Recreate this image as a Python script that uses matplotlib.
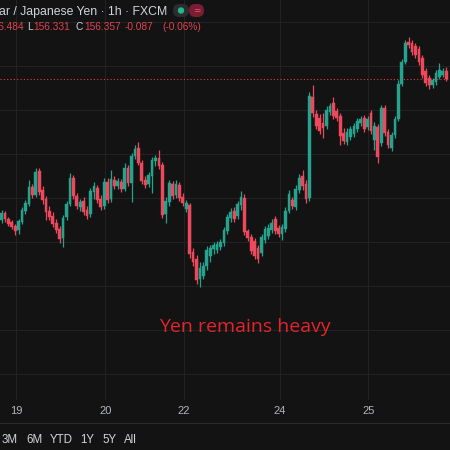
import matplotlib
matplotlib.use("Agg")
import matplotlib.pyplot as plt
from matplotlib.patches import FancyBboxPatch, Circle
import numpy as np

# ---------------- data (USD/JPY, 1h candles) ----------------
opens = [154.75, 154.83, 154.76, 154.73, 154.68, 154.64, 154.73, 154.85, 154.93, 155.12,
         155.03, 155.31, 155.09, 154.99, 154.85, 154.80, 154.72, 154.65, 154.55, 154.78,
         154.93, 155.23, 155.02, 154.90, 154.97, 154.86, 154.82, 155.07, 155.11, 154.99,
         154.91, 155.18, 154.99, 155.20, 155.14, 155.18, 155.10, 155.34, 155.17, 155.48,
         155.57, 155.40, 155.20, 155.16, 155.25, 155.42, 155.45, 155.38, 154.82, 154.95,
         155.16, 155.03, 155.15, 155.01, 154.88, 154.92, 154.39, 154.31, 154.08, 154.11,
         154.23, 154.34, 154.42, 154.41, 154.44, 154.49, 154.62, 154.77, 154.85, 154.80,
         154.92, 155.00, 154.62, 154.56, 154.51, 154.43, 154.38, 154.52, 154.57, 154.64,
         154.76, 154.66, 154.59, 154.65, 154.85, 154.98, 154.90, 155.09, 155.25, 155.16,
         155.00, 156.15, 155.95, 155.91, 155.85, 155.82, 155.98, 156.08, 155.99, 155.93,
         155.74, 155.64, 155.69, 155.73, 155.78, 155.85, 155.91, 155.81, 155.97, 155.66,
         155.81, 155.62, 156.02, 155.75, 155.57, 155.72, 155.90, 156.30, 156.55, 156.77,
         156.76, 156.73, 156.69, 156.59, 156.44, 156.36, 156.28, 156.32, 156.38, 156.40,
         156.444]
highs = [154.86, 154.85, 154.78, 154.75, 154.70, 154.76, 154.90, 154.98, 155.20, 155.16,
         155.34, 155.34, 155.14, 155.02, 154.91, 154.84, 154.76, 154.68, 154.81, 154.97,
         155.28, 155.26, 155.06, 154.99, 155.01, 154.91, 155.11, 155.18, 155.15, 155.03,
         155.23, 155.23, 155.32, 155.25, 155.23, 155.22, 155.40, 155.38, 155.51, 155.60,
         155.64, 155.43, 155.25, 155.30, 155.47, 155.49, 155.55, 155.41, 155.01, 155.20,
         155.19, 155.20, 155.18, 155.06, 154.98, 154.94, 154.43, 154.35, 154.27, 154.27,
         154.45, 154.47, 154.50, 154.51, 154.53, 154.67, 154.82, 154.89, 154.90, 154.97,
         155.08, 155.05, 154.65, 154.59, 154.55, 154.47, 154.59, 154.68, 154.70, 154.76,
         154.80, 154.69, 154.70, 154.90, 155.09, 155.01, 155.15, 155.27, 155.32, 155.20,
         156.20, 156.28, 156.00, 155.95, 155.97, 156.05, 156.08, 156.15, 156.02, 155.97,
         155.80, 155.80, 155.82, 155.85, 155.91, 155.93, 155.94, 155.93, 156.00, 155.86,
         155.84, 156.06, 156.06, 155.78, 155.75, 155.93, 156.34, 156.58, 156.80, 156.83,
         156.80, 156.76, 156.73, 156.62, 156.48, 156.40, 156.36, 156.45, 156.53, 156.48,
         156.484]
lows = [154.72, 154.73, 154.68, 154.65, 154.58, 154.59, 154.70, 154.82, 154.91, 155.00,
        155.01, 155.03, 154.93, 154.75, 154.75, 154.67, 154.60, 154.49, 154.44, 154.75,
        154.91, 154.99, 154.88, 154.85, 154.81, 154.76, 154.78, 154.99, 154.94, 154.86,
        154.88, 154.94, 154.95, 155.10, 155.10, 155.07, 155.08, 155.14, 154.95, 155.44,
        155.38, 155.16, 155.11, 155.12, 155.06, 155.36, 155.33, 154.77, 154.72, 154.91,
        154.99, 155.00, 154.97, 154.91, 154.84, 154.32, 154.23, 154.02, 153.99, 154.08,
        154.18, 154.27, 154.36, 154.38, 154.41, 154.45, 154.59, 154.73, 154.73, 154.76,
        154.86, 154.58, 154.51, 154.36, 154.31, 154.26, 154.34, 154.49, 154.53, 154.60,
        154.59, 154.56, 154.52, 154.61, 154.83, 154.88, 154.86, 155.06, 155.09, 154.94,
        154.97, 155.92, 155.78, 155.73, 155.68, 155.78, 155.94, 155.90, 155.88, 155.60,
        155.61, 155.60, 155.66, 155.69, 155.75, 155.82, 155.75, 155.77, 155.73, 155.55,
        155.40, 155.59, 155.70, 155.57, 155.53, 155.68, 155.88, 156.27, 156.52, 156.70,
        156.62, 156.59, 156.51, 156.36, 156.27, 156.24, 156.25, 156.28, 156.35, 156.38,
        156.331]
closes = [154.83, 154.76, 154.70, 154.67, 154.62, 154.74, 154.86, 154.94, 155.12, 155.03,
          155.30, 155.07, 154.98, 154.84, 154.78, 154.70, 154.64, 154.53, 154.77, 154.93,
          155.23, 155.02, 154.91, 154.95, 154.84, 154.80, 155.08, 155.14, 154.98, 154.90,
          155.18, 154.98, 155.22, 155.14, 155.19, 155.10, 155.34, 155.17, 155.48, 155.56,
          155.40, 155.19, 155.15, 155.26, 155.43, 155.45, 155.36, 154.81, 154.97, 155.17,
          155.02, 155.16, 155.00, 154.94, 154.94, 154.36, 154.27, 154.07, 154.20, 154.23,
          154.41, 154.43, 154.47, 154.48, 154.50, 154.64, 154.78, 154.84, 154.76, 154.93,
          155.01, 154.61, 154.55, 154.40, 154.34, 154.31, 154.56, 154.65, 154.66, 154.72,
          154.62, 154.59, 154.67, 154.85, 155.05, 154.91, 155.10, 155.23, 155.14, 154.99,
          156.16, 155.97, 155.82, 155.76, 155.80, 156.00, 156.05, 155.93, 155.91, 155.70,
          155.65, 155.75, 155.78, 155.82, 155.88, 155.90, 155.78, 155.90, 155.76, 155.82,
          155.47, 156.02, 155.74, 155.60, 155.72, 155.90, 156.30, 156.55, 156.76, 156.74,
          156.66, 156.62, 156.55, 156.40, 156.31, 156.28, 156.34, 156.42, 156.45, 156.44,
          156.357]

day_labels = ["19", "20", "22", "24", "25"]
day_tick_index = [4.2, 30.3, 53.4, 81.4, 107.2]
price_grid = [153.0, 153.5, 154.0, 154.5, 155.0, 155.5, 156.0, 156.5, 157.0]
last_close = 156.357

header = "ar / Japanese Yen \u00b7 1h \u00b7 FXCM"
ohlc_parts = [("156.484", "red"), ("L", "grey"), ("156.331", "red"), ("C", "grey"),
              ("156.357", "red"), ("-0.087", "red"), ("(-0.06%)", "red")]
range_buttons = ["3M", "6M", "YTD", "1Y", "5Y", "All"]
note = "Yen remains heavy"

# ---------------- style ----------------
BG = "#131313"
GRID = "#222222"
UP = "#26a38f"
DN = "#ec4a5c"
TXT = "#d1d4dc"
RED_TXT = "#e0424f"

W, H = 450, 450
fig = plt.figure(figsize=(4.5, 4.5), dpi=100, facecolor=BG)
ax = fig.add_axes([0, 50 / H, 1, 400 / H])
ax.set_facecolor(BG)

o = np.array(opens); c = np.array(closes); hi = np.array(highs); lo = np.array(lows)
idx = np.arange(len(o))
up = c >= o
cols = np.where(up, UP, DN)

ax.vlines(idx, lo, hi, colors=cols, linewidth=0.9, zorder=3)
ax.bar(idx, np.maximum(np.abs(c - o), 0.008), bottom=np.minimum(o, c), width=0.8,
       color=cols, edgecolor=cols, linewidth=0.3, zorder=4)

ax.axhline(last_close, color="#f23645", linestyle=(0, (1, 2)), linewidth=0.8, zorder=2)

ax.set_xlim(-0.44, 131.1)
ax.set_ylim(152.705, 157.25)
ax.set_yticks(price_grid)
ax.set_yticklabels([])
ax.set_xticks(day_tick_index)
ax.set_xticklabels(day_labels, color="#b2b5be", fontsize=8, family="Liberation Sans")
ax.tick_params(axis="both", length=0, pad=4)
ax.tick_params(axis="y", pad=0)
ax.grid(True, color=GRID, linewidth=0.8, zorder=0)
for s in ax.spines.values():
    s.set_visible(False)

# annotation
ax.text(0.543, 1 - 327 / 400, note, transform=ax.transAxes, ha="center", va="center",
        color="#e3242b", fontsize=14, family="Open Sans")

# ---------------- header / footer (figure pixel coordinates) ----------------
def fx(x):
    return x / W

def fy(y):
    return 1 - y / H

fig.text(fx(-1), fy(12), header, color=TXT, fontsize=8.8, family="Liberation Sans",
         ha="left", va="center")

# status pill
pill1 = FancyBboxPatch((fx(173), fy(17)), fx(16), 13 / H, boxstyle="round,pad=0,rounding_size=0.014",
                       transform=fig.transFigure, facecolor="#2a2d2e", edgecolor="none")
pill2 = FancyBboxPatch((fx(189), fy(17)), fx(15), 13 / H, boxstyle="round,pad=0,rounding_size=0.014",
                       transform=fig.transFigure, facecolor="#7a1c33", edgecolor="none")
fig.patches.extend([pill1, pill2])
fig.patches.append(Circle((fx(181), fy(10.5)), 3.2 / W, transform=fig.transFigure,
                          facecolor="#2bb38f", edgecolor="none"))
fig.text(fx(196.5), fy(10.5), "=", color="#e05a78", fontsize=6.5, ha="center", va="center",
         family="DejaVu Sans")

part_x = [24, 27, 33, 76, 84, 125, 162]
for (txt, kind), px in zip(ohlc_parts, part_x):
    ha = "right" if px == part_x[0] else "left"
    fig.text(fx(px), fy(27.5), txt, color=(TXT if kind == "grey" else RED_TXT), fontsize=7.3,
             family="Liberation Sans", ha=ha, va="center")

# separator above range bar
fig.add_artist(plt.Line2D([0, 1], [fy(423), fy(423)], transform=fig.transFigure,
                          color="#2a2a2a", linewidth=0.8))
btn_x = [2, 26, 50, 80, 102, 124]
for txt, px in zip(range_buttons, btn_x):
    fig.text(fx(px), fy(440), txt, color=TXT, fontsize=8.3, family="Liberation Sans",
             ha="left", va="center")

fig.savefig("out.png", dpi=100, facecolor=BG)
